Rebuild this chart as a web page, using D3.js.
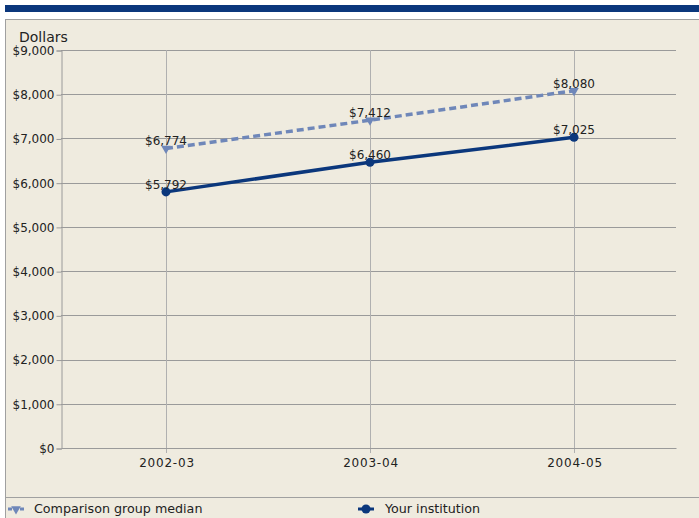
<!DOCTYPE html>
<html>
<head>
<meta charset="utf-8">
<script src="https://cdn.jsdelivr.net/npm/d3@7"></script>
<style>
  body { margin: 0; background: #fff; }
  text { font-family: "DejaVu Sans", Verdana, sans-serif; fill: #222; }
</style>
</head>
<body>
<div id="chart"></div>
<script>
// chart data
const years = ['2002-03', '2003-04', '2004-05'];
const comparisonMedian = [6774, 7412, 8080];
const yourInstitution = [5792, 6460, 7025];
const yTicks = [0, 1000, 2000, 3000, 4000, 5000, 6000, 7000, 8000, 9000];

const width = 699, height = 518;
const margin = { top: 50, right: 23, bottom: 70, left: 61 };
const navy = '#0b377c', light = '#6f87b9', grid = '#9a9a9a';

const svg = d3.select('#chart').append('svg')
    .attr('width', width)
    .attr('height', height);

// top bar and panel
svg.append('rect').attr('x', 5).attr('y', 5).attr('width', width - 5).attr('height', 7).attr('fill', navy);
svg.append('rect').attr('x', 5.5).attr('y', 19.5).attr('width', width).attr('height', height)
    .attr('fill', '#efebdf').attr('stroke', '#a0a0a0');
svg.append('line').attr('x1', 5).attr('x2', width).attr('y1', 497.5).attr('y2', 497.5).attr('stroke', '#a0a0a0');

const x = d3.scalePoint()
    .domain(years)
    .range([margin.left + 3, width - margin.right])
    .padding(0.5);

const y = d3.scaleLinear()
    .domain([0, 9000])
    .range([height - margin.bottom, margin.top]);

// gridlines
svg.append('g')
    .selectAll('line')
    .data(yTicks.filter(d => d > 0))
    .join('line')
    .attr('x1', margin.left).attr('x2', width - margin.right)
    .attr('y1', d => Math.round(y(d)) + 0.5).attr('y2', d => Math.round(y(d)) + 0.5)
    .attr('stroke', grid);

svg.append('g')
    .selectAll('line')
    .data(years)
    .join('line')
    .attr('x1', d => Math.round(x(d)) + 0.5).attr('x2', d => Math.round(x(d)) + 0.5)
    .attr('y1', margin.top).attr('y2', height - margin.bottom + 5)
    .attr('stroke', '#b0b0b0');

// axes
const yAxis = svg.append('g')
    .attr('transform', `translate(${margin.left + 0.5},0.5)`)
    .call(d3.axisLeft(y).tickValues(yTicks).tickSize(5).tickPadding(2)
        .tickFormat(d => '$' + d3.format(',')(d)));
yAxis.select('.domain').attr('stroke', grid);
yAxis.selectAll('.tick line').attr('stroke', grid);
yAxis.selectAll('text').style('font-size', '12px').attr('fill', '#222');

const xAxis = svg.append('g')
    .attr('transform', `translate(0.5,${height - margin.bottom + 0.5})`)
    .call(d3.axisBottom(x).tickSize(0).tickPadding(10));
xAxis.select('.domain').attr('stroke', grid).attr('d', `M${margin.left},0H${width - margin.right}`);
xAxis.selectAll('text').style('font-size', '12px').style('letter-spacing', '0.8px').attr('fill', '#222');

svg.append('text').attr('x', 19).attr('y', 42).style('font-size', '14px').text('Dollars');

// series
const series = [
    { name: 'Comparison group median', values: comparisonMedian, color: light, dash: '7,4', marker: 'tri' },
    { name: 'Your institution', values: yourInstitution, color: navy, dash: null, marker: 'dot' }
];

const line = d3.line().x((d, i) => x(years[i])).y(d => y(d));
const tri = d3.symbol().type(d3.symbolTriangle).size(40);

series.forEach(s => {
    svg.append('path')
        .datum(s.values)
        .attr('d', line)
        .attr('fill', 'none')
        .attr('stroke', s.color)
        .attr('stroke-width', 3.5)
        .attr('stroke-dasharray', s.dash);

    svg.append('g').selectAll('.pt')
        .data(s.values)
        .join('path')
        .attr('fill', s.color)
        .attr('transform', (d, i) => `translate(${x(years[i])},${y(d)}) rotate(180)`)
        .attr('d', s.marker === 'dot' ? d3.symbol().type(d3.symbolCircle).size(64)() : tri());

    svg.append('g').selectAll('text')
        .data(s.values)
        .join('text')
        .attr('x', (d, i) => x(years[i]))
        .attr('y', d => y(d) - 3)
        .attr('text-anchor', 'middle')
        .style('font-size', '12px')
        .text(d => '$' + d3.format(',')(d));
});

// legend
const legend = svg.append('g');
const legendX = [8, 358];
series.forEach((s, i) => {
    const g = legend.append('g').attr('transform', `translate(${legendX[i]},509)`);
    g.append('line').attr('x1', 0).attr('x2', 16).attr('stroke', s.color).attr('stroke-width', 3)
        .attr('stroke-dasharray', s.dash ? '4,2' : null);
    g.append('path').attr('fill', s.color)
        .attr('transform', 'translate(8,0) rotate(180)')
        .attr('d', s.marker === 'dot' ? d3.symbol().type(d3.symbolCircle).size(64)() : tri());
    g.append('text').attr('x', i === 0 ? 26 : 27).attr('y', 4).style('font-size', '12.7px').text(s.name);
});
</script>
</body>
</html>
